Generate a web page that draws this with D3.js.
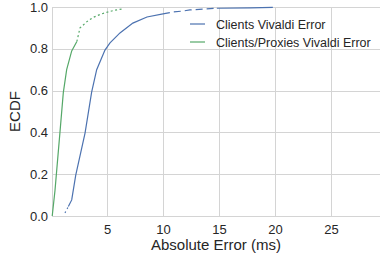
<!DOCTYPE html>
<html>
<head>
<meta charset="utf-8">
<script src="https://cdn.jsdelivr.net/npm/d3@7"></script>
<style>
  body { margin: 0; background: #fff; }
  text { font-family: "Liberation Sans", Arial, sans-serif; fill: #262626; }
</style>
</head>
<body>
<script>
// ECDF samples
const clientsX = [1.24, 1.54, 1.84, 2.2, 3.03, 3.62, 4.07, 4.81, 5.26, 6.15, 7.3, 8.56, 9.99, 10.9, 11.8, 12.4, 14.8, 17.8, 19.8];
const clientsY = [0.015, 0.045, 0.077, 0.196, 0.397, 0.593, 0.7, 0.794, 0.828, 0.876, 0.923, 0.952, 0.967, 0.976, 0.981, 0.986, 0.994, 0.996, 0.998];
const proxiesX = [0.1, 0.35, 0.79, 1.09, 1.39, 1.84, 2.3, 2.58, 3.2, 3.74, 4.4, 4.99, 5.7, 6.33];
const proxiesY = [0.0, 0.124, 0.4, 0.59, 0.7, 0.79, 0.835, 0.9, 0.93, 0.95, 0.965, 0.975, 0.985, 0.99];

const series = ['Clients Vivaldi Error', 'Clients/Proxies Vivaldi Error'];
const xTicks = [5, 10, 15, 20, 25];
const yTicks = [0.0, 0.2, 0.4, 0.6, 0.8, 1.0];

const width = 381, height = 258;
const margin = {top: 7, right: 1, bottom: 42, left: 52};

const svg = d3.select('body').append('svg')
  .attr('width', width)
  .attr('height', height);

const x = d3.scaleLinear()
  .domain([0.08, 29.37])
  .range([margin.left, width - margin.right]);

const y = d3.scaleLinear()
  .domain([0, 1])
  .range([height - margin.bottom, margin.top]);

// grid
const grid = svg.append('g').attr('stroke', '#d4d4d4').attr('stroke-width', 1);
grid.selectAll('.vg').data(xTicks).enter().append('line')
  .attr('x1', d => Math.round(x(d)) + 0.5).attr('x2', d => Math.round(x(d)) + 0.5)
  .attr('y1', y(0)).attr('y2', y(1));
grid.selectAll('.hg').data(yTicks).enter().append('line')
  .attr('x1', x.range()[0]).attr('x2', x.range()[1])
  .attr('y1', d => Math.round(y(d)) + 0.5).attr('y2', d => Math.round(y(d)) + 0.5);
grid.append('line')
  .attr('x1', x.range()[0] + 0.5).attr('x2', x.range()[0] + 0.5)
  .attr('y1', y(0)).attr('y2', y(1));

// axes (labels only)
const xAxis = svg.append('g')
  .attr('transform', `translate(0,${y(0)})`)
  .call(d3.axisBottom(x).tickValues(xTicks).tickSize(0).tickPadding(9))
  .call(g => g.select('.domain').remove());
xAxis.selectAll('text').attr('font-size', 13).attr('fill', '#262626')
  .attr('font-family', '"Liberation Sans", Arial, sans-serif');

const yAxis = svg.append('g')
  .attr('transform', `translate(${x.range()[0]},0)`)
  .call(d3.axisLeft(y).tickValues(yTicks).tickFormat(d3.format('.1f')).tickSize(0).tickPadding(4))
  .call(g => g.select('.domain').remove());
yAxis.selectAll('text').attr('font-size', 13).attr('fill', '#262626')
  .attr('font-family', '"Liberation Sans", Arial, sans-serif');

svg.append('text')
  .attr('x', (x.range()[0] + x.range()[1]) / 2)
  .attr('y', 250)
  .attr('text-anchor', 'middle')
  .attr('font-size', 15)
  .text('Absolute Error (ms)');

svg.append('text')
  .attr('transform', `translate(20,${(y(0) + y(1)) / 2}) rotate(-90)`)
  .attr('text-anchor', 'middle')
  .attr('font-size', 15)
  .text('ECDF');

// curves
const line = d3.line().x(d => x(d[0])).y(d => y(d[1]));
const colors = ['#4C72B0', '#55A868'];

function drawSeries(xs, ys, color, pieces) {
  const pts = xs.map((v, i) => [v, ys[i]]);
  pieces.forEach(p => {
    svg.append('path')
      .datum(pts.slice(p[0], p[1] + 1))
      .attr('d', line)
      .attr('fill', 'none')
      .attr('stroke', color)
      .attr('stroke-width', 1.2)
      .attr('stroke-dasharray', p[2]);
  });
}

drawSeries(clientsX, clientsY, colors[0], [[0, 1, '1.5,3'], [1, 12, null], [12, 16, '7,4'], [16, 18, null]]);
drawSeries(proxiesX, proxiesY, colors[1], [[0, 6, null], [6, 13, '2,2.5']]);

// legend
const legend = svg.append('g');
series.forEach((s, i) => {
  const ly = 24 + i * 18;
  legend.append('line')
    .attr('x1', 190).attr('x2', 205)
    .attr('y1', ly).attr('y2', ly)
    .attr('stroke', colors[i]).attr('stroke-width', 1.2);
  legend.append('text')
    .attr('x', 216).attr('y', ly + 4.5)
    .attr('font-size', 12.5)
    .text(s);
});
</script>
</body>
</html>
